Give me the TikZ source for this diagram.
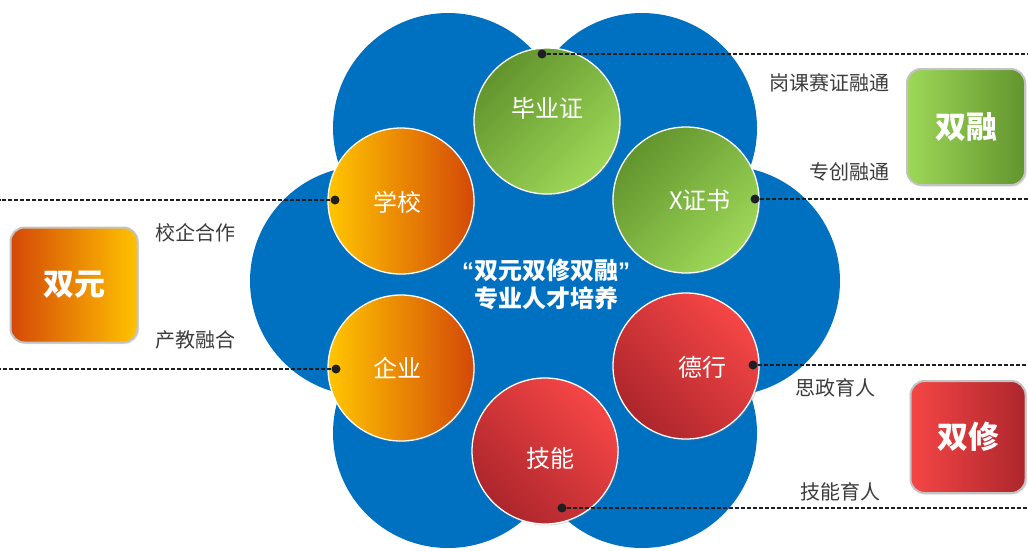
\documentclass[tikz,border=0pt]{standalone}
\usepackage{fontspec}
\setmainfont{Noto Sans CJK SC}
\newfontfamily\latf{Liberation Sans}
\usetikzlibrary{shadows}
\definecolor{flowerblue}{RGB}{0,112,192}
\definecolor{orY}{RGB}{255,198,0}
\definecolor{orM}{RGB}{250,135,5}
\definecolor{orD}{RGB}{212,72,8}
\definecolor{grD}{RGB}{98,148,45}
\definecolor{grL}{RGB}{158,216,88}
\definecolor{rdL}{RGB}{246,70,70}
\definecolor{rdD}{RGB}{172,38,44}
\definecolor{lblgray}{RGB}{60,60,60}
\definecolor{boxgray}{RGB}{195,195,195}
\definecolor{dotc}{RGB}{30,30,35}
\tikzset{
  ball/.style={circle, minimum size=146pt, inner sep=0pt, draw=white, line width=1.3pt,
    drop shadow={shadow xshift=1.5pt, shadow yshift=-1.5pt, opacity=0.25}},
  orangeball/.style={ball, left color=orY, middle color=orM, right color=orD},
  greenball/.style={ball, top color=grD, bottom color=grL, shading angle=45},
  redball/.style={ball, top color=rdL, bottom color=rdD, shading angle=-45},
  balltext/.style={text=white, font=\fontsize{24}{24}\selectfont, inner sep=0pt},
  lbl/.style={text=lblgray, font=\fontsize{20}{20}\selectfont, inner sep=0pt},
  bigbox/.style={rounded corners=14pt, draw=boxgray, line width=2pt, inner sep=0pt,
    text=white, font=\fontsize{31}{31}\selectfont\bfseries,
    drop shadow={shadow xshift=1.5pt, shadow yshift=-1.5pt, opacity=0.2}},
  dotnode/.style={circle, fill=dotc, minimum size=9pt, inner sep=0pt},
  dashline/.style={draw=dotc, line width=1.2pt, dash pattern=on 4pt off 2pt}
}
\begin{document}
\begin{tikzpicture}[x=1pt,y=-1pt]
\useasboundingbox (0,0) rectangle (1028,550);
\fill[white] (0,0) rectangle (1028,550);
% flower
\fill[flowerblue] (545,282) circle (150);
\fill[flowerblue] (448,128) circle (115);
\fill[flowerblue] (642,128) circle (115);
\fill[flowerblue] (365,281) circle (115);
\fill[flowerblue] (725,281) circle (115);
\fill[flowerblue] (448,433) circle (115);
\fill[flowerblue] (642,433) circle (115);
% balls
\node[greenball] (byz) at (547,121) {};
\node[orangeball] (xx) at (401,201) {};
\node[greenball] (xzs) at (686,200) {};
\node[orangeball] (qy) at (401,368) {};
\node[redball] (dx) at (686,366) {};
\node[redball] (jn) at (545,451) {};
\node[balltext] (tbyz) at (547,108) {毕业证};
\node[balltext] (txx) at (397,202) {学校};
\node[balltext] (txzs) at (700,200) {X证书};
\node[balltext] (tqy) at (397,368) {企业};
\node[balltext] (tdx) at (702,367) {德行};
\node[balltext] (tjn) at (550,458) {技能};
% center text
\node[text=white, font=\fontsize{24}{28}\selectfont\bfseries, align=center, inner sep=0pt] (ctr) at (546,284)
  {{\latf\bfseries\textquotedblleft}双元双修双融{\latf\bfseries\textquotedblright}\\专业人才培养};
% dots and dashed lines
\node[dotnode] (d1) at (542,54) {};
\node[dotnode] (d2) at (335,200) {};
\node[dotnode] (d3) at (755,199) {};
\node[dotnode] (d4) at (336,369) {};
\node[dotnode] (d5) at (753,365) {};
\node[dotnode] (d6) at (562,508) {};
\coordinate (e1) at (1028,54);
\coordinate (e2) at (0,200);
\coordinate (e3) at (1028,199);
\coordinate (e4) at (0,369);
\coordinate (e5) at (1028,365);
\coordinate (e6) at (1028,508);
\draw[dashline] (d1) -- (e1);
\draw[dashline] (d2) -- (e2);
\draw[dashline] (d3) -- (e3);
\draw[dashline] (d4) -- (e4);
\draw[dashline] (d5) -- (e5);
\draw[dashline] (d6) -- (e6);
% boxes
\node[bigbox, minimum width=127pt, minimum height=115pt, left color=orD, right color=orY!95!orange] (sy) at (74,285) {双元};
\node[bigbox, minimum width=118pt, minimum height=116pt, left color=grL, right color=grD] (sr) at (966,127) {双融};
\node[bigbox, minimum width=115pt, minimum height=112pt, left color=rdL, right color=rdD] (sx) at (968,437) {双修};
% labels
\node[lbl, anchor=west] (l1) at (155,233) {校企合作};
\node[lbl, anchor=west] (l2) at (155,340) {产教融合};
\node[lbl, anchor=east] (l3) at (890,83) {岗课赛证融通};
\node[lbl, anchor=east] (l4) at (890,172) {专创融通};
\node[lbl, anchor=west] (l5) at (795,388) {思政育人};
\node[lbl, anchor=west] (l6) at (800,492) {技能育人};
\end{tikzpicture}
\end{document}
